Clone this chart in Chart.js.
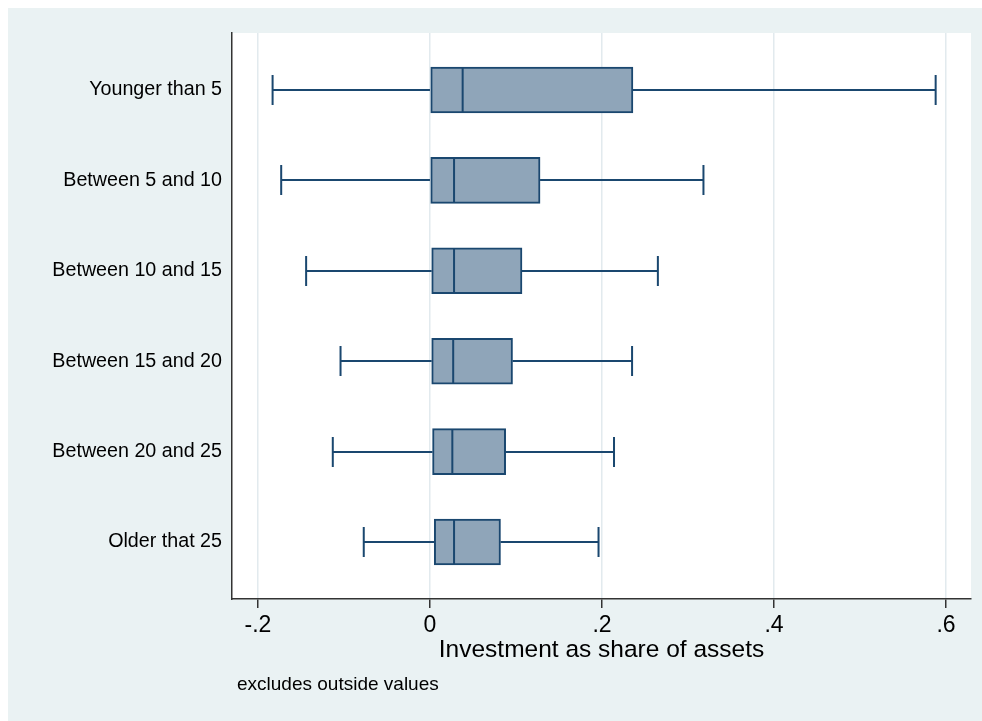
<!DOCTYPE html>
<html>
<head>
<meta charset="utf-8">
<script src="https://cdn.jsdelivr.net/npm/chart.js@4.4.1/dist/chart.umd.min.js"></script>
<style>
  body { margin: 0; background: #ffffff; width: 982px; height: 721px; overflow: hidden; position: relative; }
  #panel { position: absolute; left: 8px; top: 8px; width: 974px; height: 713px; background: #eaf2f3; }
  #boxChart { position: absolute; left: 0; top: 0; }
  #note { position: absolute; left: 237px; top: 674px; font-family: "Liberation Sans", Arial, sans-serif;
          font-size: 19px; line-height: 19px; color: #000; white-space: nowrap; }
</style>
</head>
<body>
<div id="panel">
  <canvas id="boxChart" width="974" height="713"></canvas>
</div>
<div id="note">excludes outside values</div>

<script>
// age groups, top to bottom
var ageGroups = ["Younger than 5", "Between 5 and 10", "Between 10 and 15",
                 "Between 15 and 20", "Between 20 and 25", "Older that 25"];

// box plot statistics (investment / assets), outside values excluded
var whiskerLow  = [-0.183, -0.173, -0.144, -0.104, -0.113, -0.077];
var quartile1   = [ 0.000,  0.000,  0.002,  0.002,  0.003,  0.005];
var medians     = [ 0.038,  0.028,  0.028,  0.027,  0.026,  0.028];
var quartile3   = [ 0.236,  0.128,  0.107,  0.096,  0.088,  0.082];
var whiskerHigh = [ 0.588,  0.318,  0.265,  0.235,  0.214,  0.196];

// x axis ticks
var xTickValues = [-0.2, 0, 0.2, 0.4, 0.6];
var xTickLabels = ["-.2", "0", ".2", ".4", ".6"];

var navy = "#1a476f";
var boxFill = "#8fa5b9";

// whiskers, caps and median lines on top of the floating bars
var boxExtras = {
  id: "boxExtras",
  afterDatasetsDraw: function (chart) {
    var ctx = chart.ctx;
    var xs = chart.scales.x;
    var ys = chart.scales.y;
    ctx.save();
    ctx.strokeStyle = navy;
    ctx.lineWidth = 2;
    ageGroups.forEach(function (g, i) {
      var y = Math.round(ys.getPixelForValue(i));
      var lo = xs.getPixelForValue(whiskerLow[i]);
      var q1 = xs.getPixelForValue(quartile1[i]);
      var q3 = xs.getPixelForValue(quartile3[i]);
      var hi = xs.getPixelForValue(whiskerHigh[i]);
      var md = xs.getPixelForValue(medians[i]);
      ctx.beginPath();
      ctx.moveTo(lo, y); ctx.lineTo(q1, y);
      ctx.moveTo(q3, y); ctx.lineTo(hi, y);
      // caps
      ctx.moveTo(lo, y - 15); ctx.lineTo(lo, y + 15);
      ctx.moveTo(hi, y - 15); ctx.lineTo(hi, y + 15);
      // median
      ctx.moveTo(md, y - 22); ctx.lineTo(md, y + 22);
      ctx.stroke();
    });
    ctx.restore();
  }
};

// white plot region behind the boxes
var plotBg = {
  id: "plotBg",
  beforeDraw: function (chart) {
    var a = chart.chartArea;
    chart.ctx.save();
    chart.ctx.fillStyle = "#ffffff";
    chart.ctx.fillRect(a.left, a.top, a.right - a.left, a.bottom - a.top);
    chart.ctx.restore();
  }
};

var boxData = ageGroups.map(function (g, i) {
  return { x: [quartile1[i], quartile3[i]], y: i };
});

new Chart(document.getElementById("boxChart").getContext("2d"), {
  type: "bar",
  data: {
    datasets: [{
      data: boxData,
      backgroundColor: boxFill,
      borderColor: navy,
      borderWidth: 2,
      borderSkipped: false,
      barThickness: 46
    }]
  },
  options: {
    indexAxis: "y",
    responsive: false,
    animation: false,
    layout: { padding: { left: 0, top: 25, right: 11, bottom: 56 } },
    plugins: {
      legend: { display: false },
      tooltip: { enabled: false }
    },
    scales: {
      x: {
        type: "linear",
        min: -0.2302,
        max: 0.6291,
        afterBuildTicks: function (scale) {
          scale.ticks = xTickValues.map(function (v) { return { value: v }; });
        },
        afterFit: function (scale) { scale.height = 66; },
        grid: {
          color: "#e2eaee",
          lineWidth: 1.5,
          drawTicks: true,
          tickLength: 9,
          tickColor: "#333333",
          tickWidth: 1.5
        },
        border: { display: true, color: "#333333", width: 1.5 },
        ticks: {
          padding: 4,
          color: "#000",
          font: { family: "'Liberation Sans', Arial, sans-serif", size: 23 },
          callback: function (v, idx) { return xTickLabels[idx]; }
        },
        title: {
          display: true,
          text: "Investment as share of assets",
          color: "#000",
          padding: { top: 0, bottom: 0 },
          font: { family: "'Liberation Sans', Arial, sans-serif", size: 24.5 }
        }
      },
      y: {
        type: "linear",
        reverse: true,
        offset: false,
        min: -0.63,
        max: 5.63,
        afterBuildTicks: function (scale) {
          scale.ticks = ageGroups.map(function (g, i) { return { value: i }; });
        },
        afterFit: function (scale) { scale.width = 224; },
        grid: { display: false, drawTicks: false, tickLength: 0 },
        border: { display: true, color: "#333333", width: 1.5 },
        ticks: {
          padding: 10,
          color: "#000",
          font: { family: "'Liberation Sans', Arial, sans-serif", size: 19.7 },
          callback: function (v) { return ageGroups[v]; }
        }
      }
    }
  },
  plugins: [plotBg, boxExtras]
});
</script>
</body>
</html>
